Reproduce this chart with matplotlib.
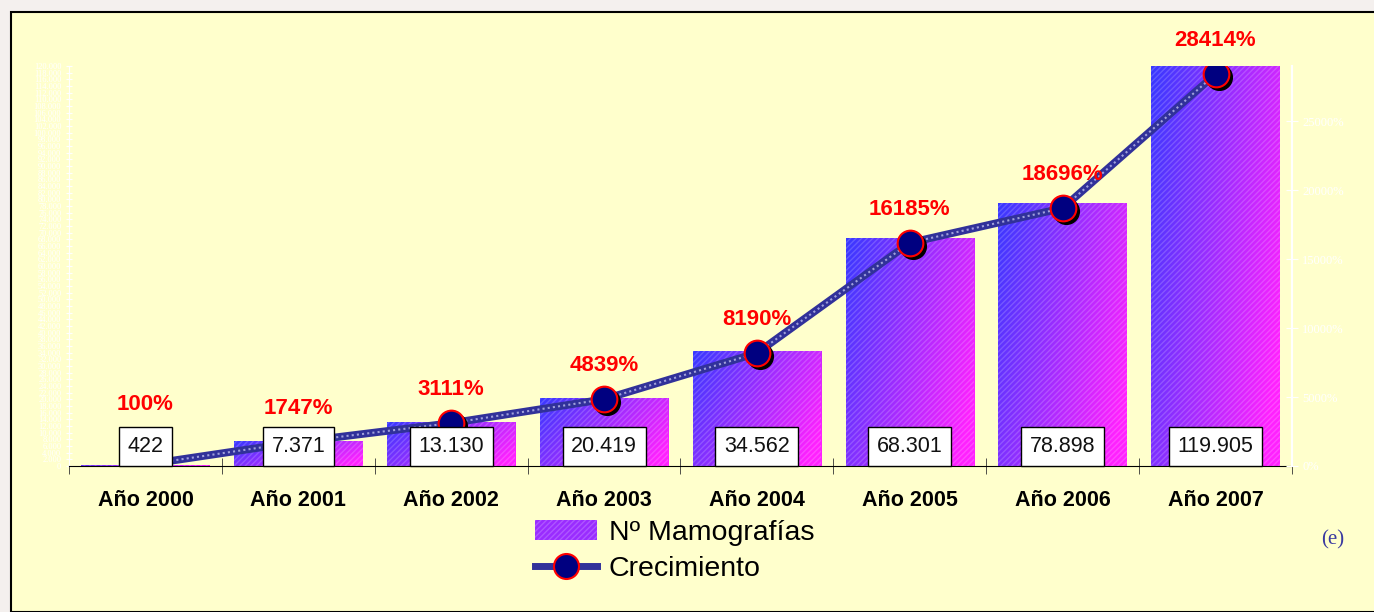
import numpy as np
import matplotlib
matplotlib.use('Agg')
import matplotlib.pyplot as plt
from matplotlib.patches import Rectangle, Patch
from matplotlib.lines import Line2D
from matplotlib.ticker import FuncFormatter
import matplotlib.transforms as mtransforms

# data
years = ['Año 2000', 'Año 2001', 'Año 2002', 'Año 2003',
         'Año 2004', 'Año 2005', 'Año 2006', 'Año 2007']
mamografias = [422, 7371, 13130, 20419, 34562, 68301, 78898, 119905]
value_labels = ['422', '7.371', '13.130', '20.419',
                '34.562', '68.301', '78.898', '119.905']
crecimiento = [100, 1747, 3111, 4839, 8190, 16185, 18696, 28414]

plt.rcParams['font.family'] = ['Liberation Sans', 'DejaVu Sans']

W, H = 1374, 612
fig = plt.figure(figsize=(W / 100, H / 100), dpi=100)
fig.patch.set_facecolor('#f4f0ee')

# yellow panel with black frame
panel = Rectangle((11 / W, 0), 1.0, 1 - 12 / H, transform=fig.transFigure,
                  facecolor='#ffffcc', edgecolor='black', lw=1.5, zorder=-10)
fig.patches.append(panel)

ax = fig.add_axes([69 / W, (H - 466) / H, (1292 - 69) / W, 400 / H])
ax.set_facecolor('none')
x = np.arange(len(years))

# gradient bars
grad_x, grad_y = np.meshgrid(np.linspace(0, 1, 60), np.linspace(0, 1, 120))
t = np.clip(0.75 * grad_x + 0.35 * grad_y, 0, 1)
c0 = np.array([0.22, 0.22, 1.0])
c1 = np.array([1.0, 0.13, 1.0])
grad = c0[None, None, :] * (1 - t[..., None]) + c1[None, None, :] * t[..., None]

bw = 0.84
bars = ax.bar(x, mamografias, width=bw, facecolor='none', edgecolor='none', zorder=1)
for b in bars:
    x0, y0 = b.get_x(), b.get_y()
    im = ax.imshow(grad, extent=[x0, x0 + b.get_width(), y0, y0 + b.get_height()],
                   origin='upper', aspect='auto', zorder=1)
    im.set_clip_path(b)
    ax.bar(b.get_x() + b.get_width() / 2, b.get_height(), width=b.get_width(),
           facecolor='none', edgecolor=(1, 1, 1, 0.18), lw=0, hatch='//////', zorder=2)
ax.set_aspect('auto')
ax.set_xlim(-0.5, len(years) - 0.5)
ax.set_ylim(0, 120000)

# axes styling
for s in ['top', 'right']:
    ax.spines[s].set_visible(False)
ax.spines['left'].set_color('white')
ax.spines['bottom'].set_color('black')
ax.set_yticks(np.arange(0, 120001, 2000))
ax.yaxis.set_major_formatter(FuncFormatter(lambda v, p: f'{int(v):,}'.replace(',', '.')))
ax.tick_params(axis='y', colors='white', labelsize=6, length=4, direction='inout',
               labelfontfamily='Liberation Serif')
ax.set_xticks(x)
ax.set_xticklabels(years, fontsize=15.5, fontweight='bold')
ax.tick_params(axis='x', which='major', length=0, pad=17)
ax.set_xticks(np.arange(-0.5, len(years), 1), minor=True)
ax.tick_params(axis='x', which='minor', length=12, direction='inout', color='#333333')

# growth line on right axis
ax2 = ax.twinx()
ax2.set_ylim(0, 29000)
ax2.set_xlim(-0.5, len(years) - 0.5)
for s in ['top', 'left', 'bottom']:
    ax2.spines[s].set_visible(False)
ax2.spines['right'].set_color('white')
ax2.spines['right'].set_linewidth(1.5)
ax2.set_yticks(np.arange(0, 25001, 5000))
ax2.yaxis.set_major_formatter(FuncFormatter(lambda v, p: f'{int(v)}%'))
ax2.tick_params(axis='y', colors='white', labelsize=9, length=8, direction='inout',
                labelfontfamily='Liberation Serif')

ax2.plot(x, crecimiento, color='#31319a', lw=5.5, zorder=3, solid_capstyle='round')
ax2.plot(x, crecimiento, color='#a0a0dc', lw=1.5, ls=(0, (1, 1.5)), zorder=3)
shadow = mtransforms.offset_copy(ax2.transData, fig=fig, x=3, y=-3, units='dots')
ax2.plot(x, crecimiento, 'o', color='black', ms=18.5, transform=shadow, zorder=4)
ax2.plot(x, crecimiento, 'o', mfc='#000080', mec='red', mew=1.5, ms=18.5, zorder=5)

for i in range(len(years)):
    ax2.annotate(value_labels[i], (x[i], 0), xytext=(0, 14), textcoords='offset points',
                 ha='center', va='center', fontsize=15.5, color='#111111', zorder=6,
                 bbox=dict(boxstyle='square,pad=0.4', fc='white', ec='black', lw=1))
    off = 43 if i == 0 else 24
    ax2.annotate(f'{crecimiento[i]}%', (x[i], crecimiento[i]), xytext=(0, off),
                 textcoords='offset points', ha='center', va='center', fontsize=16,
                 fontweight='bold', color='#ff0000', zorder=7)

# legend
handles = [Patch(facecolor='#9a2cff', edgecolor=(1, 1, 1, 0.2), hatch='//////', lw=0),
           Line2D([], [], color='#31319a', lw=5, marker='o', mfc='#000080', mec='red',
                  mew=1.5, ms=18)]
leg = fig.legend(handles, ['Nº Mamografías', 'Crecimiento'], loc='upper left',
                 bbox_to_anchor=(509 / W, 1 - 494 / H), frameon=False, fontsize=20.5,
                 handlelength=2.2, handletextpad=0.4, labelspacing=0.35)

fig.text(1333 / W, 1 - 540 / H, '(e)', fontsize=15, color='#3a3aa0',
         family='Liberation Serif', ha='center', va='center')

fig.savefig('out.png', dpi=100, facecolor=fig.get_facecolor())
